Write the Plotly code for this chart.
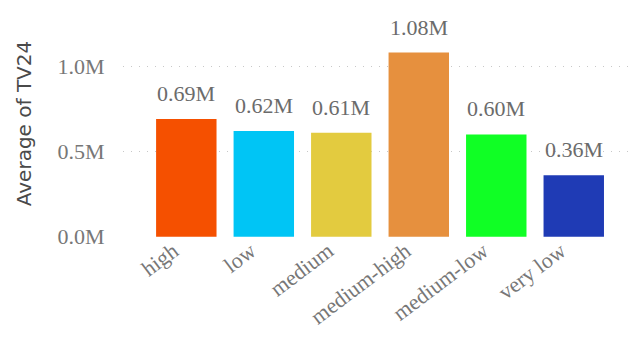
import plotly.graph_objects as go

# Average TV24 by category
categories = ["high", "low", "medium", "medium-high", "medium-low", "very low"]
avg_tv24 = [690000, 620000, 610000, 1080000, 600000, 360000]
bar_colors = ["#F55000", "#00C5F5", "#E3CB3F", "#E6903E", "#10FF25", "#1F3BB5"]

y_tick_vals = [0, 500000, 1000000]
y_tick_text = ["0.0M", "0.5M", "1.0M"]

serif = "Liberation Serif, Times New Roman, serif"

fig = go.Figure(
    go.Bar(
        x=categories,
        y=avg_tv24,
        marker=dict(color=bar_colors, line=dict(width=0)),
        showlegend=False,
        hoverinfo="x+y",
    )
)

# value labels above each bar
for cat, val in zip(categories, avg_tv24):
    fig.add_annotation(
        x=cat, y=val, text=f"{val / 1e6:.2f}M",
        showarrow=False, yanchor="bottom", yshift=11,
        font=dict(family=serif, size=22, color="#6b6b6b"),
    )

fig.update_layout(
    width=628, height=338,
    margin=dict(l=123, r=0, t=10, b=101),
    paper_bgcolor="white", plot_bgcolor="white",
    bargap=0.22,
    xaxis=dict(
        range=[-0.817, 5.70],
        tickangle=-37,
        tickfont=dict(family=serif, size=22, color="#777777"),
        showgrid=False, showline=False, zeroline=False,
        ticks="", ticklen=0,
        ticklabelshift=-13, ticklabelstandoff=-4,
    ),
    yaxis=dict(
        range=[-1500, 1330000],
        tickvals=y_tick_vals, ticktext=y_tick_text,
        tickfont=dict(family=serif, size=22, color="#777777"),
        showgrid=True, gridcolor="#c8c8c8", gridwidth=1, griddash="1px,7px",
        zeroline=False, showline=False,
        ticks="outside", ticklen=13, tickcolor="rgba(0,0,0,0)",
        title=dict(text="Average of TV24", standoff=20,
                   font=dict(family="DejaVu Sans, sans-serif", size=20, color="#4a4a4a")),
    ),
)

fig.write_html("out.html")
